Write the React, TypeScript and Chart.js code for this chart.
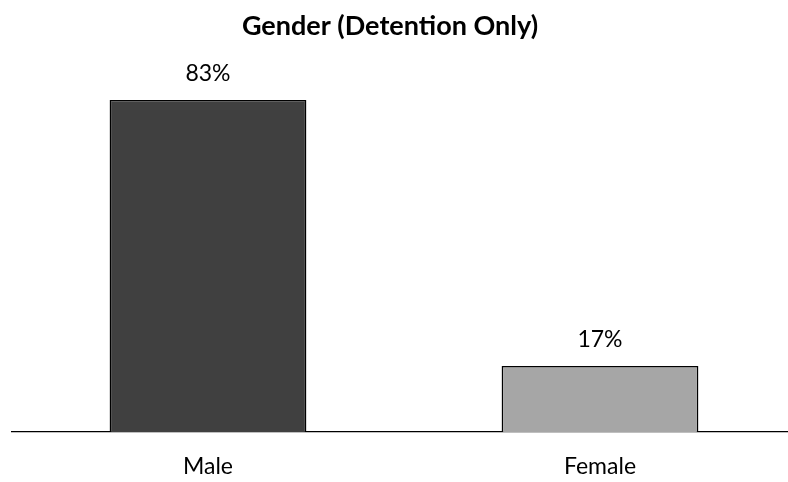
import React, { useEffect, useRef } from "react";
import { Chart, registerables } from "chart.js";

Chart.register(...registerables);

const categories = ["Male", "Female"];
const values = [83.4, 16.6];
const valueLabels = ["83%", "17%"];
const barColors = ["#404040", "#A6A6A6"];
const titleText = "Gender (Detention Only)";

const FONT = "Lato, 'Open Sans', sans-serif";

const textPlugin = {
  id: "texts",
  afterDatasetsDraw(chart: any) {
    const ctx = chart.ctx;
    const meta = chart.getDatasetMeta(0);
    ctx.save();
    ctx.font = `23px ${FONT}`;
    ctx.fillStyle = "#000";
    ctx.textAlign = "center";
    ctx.textBaseline = "middle";
    meta.data.forEach((bar: any, i: number) => {
      ctx.fillText(valueLabels[i], bar.x, bar.y - 26);
    });
    ctx.font = `bold 27px ${FONT}`;
    ctx.fillText(titleText, 390, 26);
    ctx.restore();
  },
};

export default function App() {
  const ref = useRef<HTMLCanvasElement>(null);
  useEffect(() => {
    document.body.style.overflow = "hidden";
    const chart = new Chart(ref.current!, {
      type: "bar",
      data: {
        labels: categories,
        datasets: [
          {
            data: values,
            backgroundColor: barColors,
            borderColor: "#000",
            borderWidth: 1.5,
            categoryPercentage: 1,
            barPercentage: 0.502,
          },
        ],
      },
      options: {
        responsive: false,
        animation: false,
        layout: { padding: { left: 12, right: 0, top: 72, bottom: 0 } },
        plugins: {
          legend: { display: false },
          tooltip: { enabled: false },
          title: { display: false },
        },
        scales: {
          x: {
            grid: { display: false, drawTicks: false },
            border: { display: true, color: "#000", width: 1.3 },
            ticks: { color: "#000", font: { family: FONT, size: 23 }, padding: 21 },
            afterFit(scale: any) {
              scale.height = 50;
            },
          },
          y: {
            display: false,
            min: 0,
            max: 90.4,
          },
        },
      },
      plugins: [textPlugin],
    });
    return () => chart.destroy();
  }, []);
  return (
    <div style={{ position: "fixed", left: 0, top: 0, width: 796, height: 482, background: "#fff" }}>
      <canvas ref={ref} width={796} height={482} />
    </div>
  );
}
